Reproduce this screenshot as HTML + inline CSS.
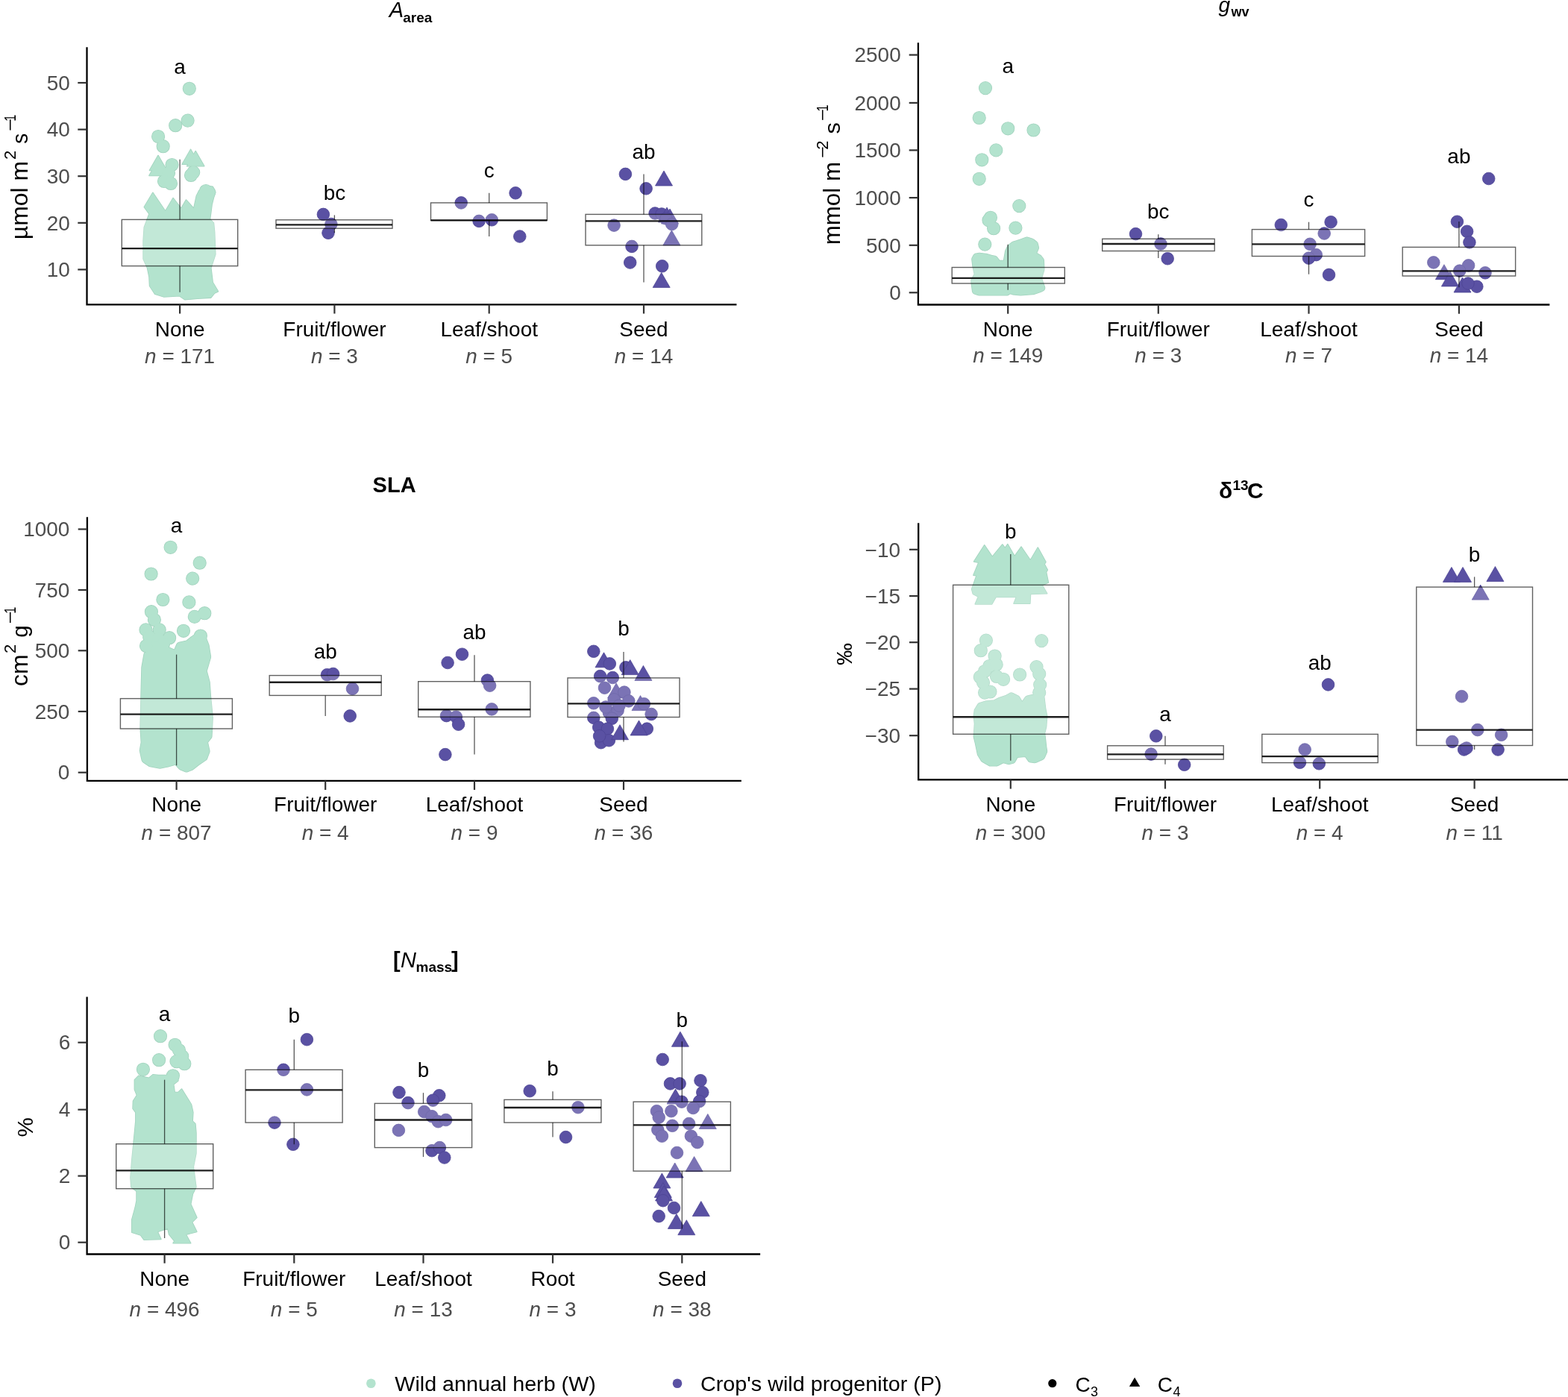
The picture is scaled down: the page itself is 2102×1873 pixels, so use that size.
<!DOCTYPE html>
<html><head><meta charset="utf-8"><title>Figure</title>
<style>html,body{margin:0;padding:0;background:#fff;overflow:hidden;} svg{display:block;}</style>
</head><body>
<svg width="2102" height="1873" viewBox="0 0 2102 1873" font-family="'Liberation Sans', Arial, Helvetica, sans-serif">
<rect width="2102" height="1873" fill="#fff"/>
<g fill="#a2d3be" stroke="#a2d3be" stroke-width="1.6" stroke-linejoin="round">
<path d="M204.8,258.3L193.3,277.6L200.0,286.7L193.3,304.8L192.1,323.0L192.1,347.2L197.5,359.2L200.0,371.3L200.6,383.4L207.8,394.3L219.9,397.9L240.4,396.7L247.7,401.6L264.6,400.3L282.8,399.1L287.6,393.1L292.4,390.7L285.2,378.6L282.8,359.2L288.8,341.1L287.6,310.9L286.4,298.8L281.5,294.0L282.8,284.3L284.0,274.6L286.4,265.0L288.8,257.7L285.2,250.4L275.5,249.2L267.0,255.3L263.4,262.5L259.8,279.5L249.5,268.0L242.9,279.5L232.0,265.6L221.7,283.1Z" />
<circle cx="253.8" cy="118.8" r="8.3" />
<circle cx="251.6" cy="161.6" r="8.3" />
<circle cx="235.2" cy="168.2" r="8.3" />
<circle cx="212.1" cy="183.0" r="8.3" />
<circle cx="218.7" cy="196.2" r="8.3" />
<path d="M200.5,228.5L223.5,228.5L212.0,208.5Z" />
<path d="M200.0,235.5L223.0,235.5L211.5,215.5Z" />
<circle cx="230.5" cy="221.0" r="8.3" />
<circle cx="226.0" cy="232.0" r="8.3" />
<circle cx="220.0" cy="243.0" r="8.3" />
<circle cx="229.0" cy="246.0" r="8.3" />
<path d="M244.1,220.3L267.1,220.3L255.6,200.3Z" />
<path d="M250.7,222.7L273.7,222.7L262.2,202.7Z" />
<circle cx="259.2" cy="231.1" r="8.3" />
<circle cx="256.0" cy="235.0" r="8.3" />
<circle cx="280.0" cy="258.0" r="8.3" />
<circle cx="276.0" cy="256.0" r="8.3" />
</g>
<g fill="#b3e3ce">
<path d="M204.8,258.3L193.3,277.6L200.0,286.7L193.3,304.8L192.1,323.0L192.1,347.2L197.5,359.2L200.0,371.3L200.6,383.4L207.8,394.3L219.9,397.9L240.4,396.7L247.7,401.6L264.6,400.3L282.8,399.1L287.6,393.1L292.4,390.7L285.2,378.6L282.8,359.2L288.8,341.1L287.6,310.9L286.4,298.8L281.5,294.0L282.8,284.3L284.0,274.6L286.4,265.0L288.8,257.7L285.2,250.4L275.5,249.2L267.0,255.3L263.4,262.5L259.8,279.5L249.5,268.0L242.9,279.5L232.0,265.6L221.7,283.1Z" />
<circle cx="253.8" cy="118.8" r="8.3" />
<circle cx="251.6" cy="161.6" r="8.3" />
<circle cx="235.2" cy="168.2" r="8.3" />
<circle cx="212.1" cy="183.0" r="8.3" />
<circle cx="218.7" cy="196.2" r="8.3" />
<path d="M200.5,228.5L223.5,228.5L212.0,208.5Z" />
<path d="M200.0,235.5L223.0,235.5L211.5,215.5Z" />
<circle cx="230.5" cy="221.0" r="8.3" />
<circle cx="226.0" cy="232.0" r="8.3" />
<circle cx="220.0" cy="243.0" r="8.3" />
<circle cx="229.0" cy="246.0" r="8.3" />
<path d="M244.1,220.3L267.1,220.3L255.6,200.3Z" />
<path d="M250.7,222.7L273.7,222.7L262.2,202.7Z" />
<circle cx="259.2" cy="231.1" r="8.3" />
<circle cx="256.0" cy="235.0" r="8.3" />
<circle cx="280.0" cy="258.0" r="8.3" />
<circle cx="276.0" cy="256.0" r="8.3" />
</g>
<circle cx="433.4" cy="287.4" r="8.3" fill="#5a51a3" stroke="#4d4494" stroke-width="0.8"/>
<circle cx="443.9" cy="300.5" r="8.3" fill="#5a51a3" stroke="#4d4494" stroke-width="0.8"/>
<circle cx="440.0" cy="312.3" r="8.3" fill="#5a51a3" stroke="#4d4494" stroke-width="0.8"/>
<circle cx="618.2" cy="271.9" r="8.3" fill="#5a51a3" stroke="#4d4494" stroke-width="0.8"/>
<circle cx="691.1" cy="258.8" r="8.3" fill="#5a51a3" stroke="#4d4494" stroke-width="0.8"/>
<circle cx="642.1" cy="296.4" r="8.3" fill="#5a51a3" stroke="#4d4494" stroke-width="0.8"/>
<circle cx="659.3" cy="294.8" r="8.3" fill="#5a51a3" stroke="#4d4494" stroke-width="0.8"/>
<circle cx="696.8" cy="317.0" r="8.3" fill="#5a51a3" stroke="#4d4494" stroke-width="0.8"/>
<circle cx="838.4" cy="233.4" r="8.3" fill="#5a51a3" stroke="#4d4494" stroke-width="0.8"/>
<circle cx="866.1" cy="252.8" r="8.3" fill="#5a51a3" stroke="#4d4494" stroke-width="0.8"/>
<path d="M878.5,249.0L901.5,249.0L890.0,229.0Z" fill="#5a51a3" stroke="#4d4494" stroke-width="0.8" stroke-linejoin="miter"/>
<circle cx="878.1" cy="286.0" r="8.3" fill="#5a51a3" stroke="#4d4494" stroke-width="0.8"/>
<circle cx="887.0" cy="287.0" r="8.3" fill="#5a51a3" stroke="#4d4494" stroke-width="0.8"/>
<path d="M882.5,298.0L905.5,298.0L894.0,278.0Z" fill="#5a51a3" stroke="#4d4494" stroke-width="0.8" stroke-linejoin="miter"/>
<path d="M886.5,300.0L909.5,300.0L898.0,280.0Z" fill="#5a51a3" stroke="#4d4494" stroke-width="0.8" stroke-linejoin="miter"/>
<circle cx="893.0" cy="293.0" r="8.3" fill="#5a51a3" stroke="#4d4494" stroke-width="0.8"/>
<circle cx="900.7" cy="300.5" r="8.3" fill="#5a51a3" stroke="#4d4494" stroke-width="0.8"/>
<circle cx="823.1" cy="302.1" r="8.3" fill="#5a51a3" stroke="#4d4494" stroke-width="0.8"/>
<path d="M888.9,328.8L911.9,328.8L900.4,308.8Z" fill="#5a51a3" stroke="#4d4494" stroke-width="0.8" stroke-linejoin="miter"/>
<circle cx="847.0" cy="330.4" r="8.3" fill="#5a51a3" stroke="#4d4494" stroke-width="0.8"/>
<circle cx="844.7" cy="352.0" r="8.3" fill="#5a51a3" stroke="#4d4494" stroke-width="0.8"/>
<circle cx="887.7" cy="356.8" r="8.3" fill="#5a51a3" stroke="#4d4494" stroke-width="0.8"/>
<path d="M875.2,385.4L898.2,385.4L886.7,365.4Z" fill="#5a51a3" stroke="#4d4494" stroke-width="0.8" stroke-linejoin="miter"/>
<rect x="163.3" y="294.4" width="155.4" height="62.2" fill="#fff" fill-opacity="0.2" stroke="#000" stroke-opacity="0.62" stroke-width="1.4"/>
<path d="M241.1,294.4V213.7" stroke="#000" stroke-opacity="0.66" stroke-width="1.3"/>
<path d="M241.1,356.6V391.8" stroke="#000" stroke-opacity="0.66" stroke-width="1.3"/>
<path d="M163.3,333.1H318.7" stroke="#000" stroke-opacity="0.88" stroke-width="2.35"/>
<rect x="370.0" y="294.8" width="156.0" height="11.4" fill="#fff" fill-opacity="0.2" stroke="#000" stroke-opacity="0.62" stroke-width="1.4"/>
<path d="M448.4,294.8V288.4" stroke="#000" stroke-opacity="0.66" stroke-width="1.3"/>
<path d="M448.4,306.2V312.0" stroke="#000" stroke-opacity="0.66" stroke-width="1.3"/>
<path d="M370.0,301.4H526.0" stroke="#000" stroke-opacity="0.88" stroke-width="2.35"/>
<rect x="577.5" y="271.9" width="155.9" height="23.5" fill="#fff" fill-opacity="0.2" stroke="#000" stroke-opacity="0.62" stroke-width="1.4"/>
<path d="M655.7,271.9V258.8" stroke="#000" stroke-opacity="0.66" stroke-width="1.3"/>
<path d="M655.7,295.4V317.0" stroke="#000" stroke-opacity="0.66" stroke-width="1.3"/>
<path d="M577.5,295.4H733.4" stroke="#000" stroke-opacity="0.88" stroke-width="2.35"/>
<rect x="785.0" y="287.4" width="155.8" height="41.4" fill="#fff" fill-opacity="0.2" stroke="#000" stroke-opacity="0.62" stroke-width="1.4"/>
<path d="M863.0,287.4V233.4" stroke="#000" stroke-opacity="0.66" stroke-width="1.3"/>
<path d="M863.0,328.8V378.4" stroke="#000" stroke-opacity="0.66" stroke-width="1.3"/>
<path d="M785.0,296.4H940.8" stroke="#000" stroke-opacity="0.88" stroke-width="2.35"/>
<text transform="translate(241.1,98.8) scale(1.035,1)" font-size="27" text-anchor="middle" fill="#000" font-weight="normal" font-style="normal" >a</text>
<text transform="translate(448.4,267.7) scale(1.035,1)" font-size="27" text-anchor="middle" fill="#000" font-weight="normal" font-style="normal" >bc</text>
<text transform="translate(655.7,237.5) scale(1.035,1)" font-size="27" text-anchor="middle" fill="#000" font-weight="normal" font-style="normal" >c</text>
<text transform="translate(863.0,213.4) scale(1.035,1)" font-size="27" text-anchor="middle" fill="#000" font-weight="normal" font-style="normal" >ab</text>
<path d="M116.5,64.3V408.3H986.3" fill="none" stroke="#000" stroke-width="2.3" stroke-linecap="square"/>
<path d="M104.3,361.4H116.5" stroke="#333" stroke-width="2.2"/>
<text transform="translate(93.8,371.1) scale(1.035,1)" font-size="27" text-anchor="end" fill="#4d4d4d" font-weight="normal" font-style="normal" >10</text>
<path d="M104.3,298.8H116.5" stroke="#333" stroke-width="2.2"/>
<text transform="translate(93.8,308.5) scale(1.035,1)" font-size="27" text-anchor="end" fill="#4d4d4d" font-weight="normal" font-style="normal" >20</text>
<path d="M104.3,236.2H116.5" stroke="#333" stroke-width="2.2"/>
<text transform="translate(93.8,245.9) scale(1.035,1)" font-size="27" text-anchor="end" fill="#4d4d4d" font-weight="normal" font-style="normal" >30</text>
<path d="M104.3,173.6H116.5" stroke="#333" stroke-width="2.2"/>
<text transform="translate(93.8,183.3) scale(1.035,1)" font-size="27" text-anchor="end" fill="#4d4d4d" font-weight="normal" font-style="normal" >40</text>
<path d="M104.3,111.0H116.5" stroke="#333" stroke-width="2.2"/>
<text transform="translate(93.8,120.7) scale(1.035,1)" font-size="27" text-anchor="end" fill="#4d4d4d" font-weight="normal" font-style="normal" >50</text>
<path d="M241.1,408.3V420.5" stroke="#333" stroke-width="2.2"/>
<text transform="translate(241.1,451.1) scale(1.035,1)" font-size="27" text-anchor="middle" fill="#000" font-weight="normal" font-style="normal" >None</text>
<text transform="translate(241.1,487.0) scale(1.035,1)" font-size="27" text-anchor="middle" fill="#4d4d4d" font-weight="normal" font-style="normal" ><tspan font-style="italic">n</tspan> = 171</text>
<path d="M448.4,408.3V420.5" stroke="#333" stroke-width="2.2"/>
<text transform="translate(448.4,451.1) scale(1.035,1)" font-size="27" text-anchor="middle" fill="#000" font-weight="normal" font-style="normal" >Fruit/flower</text>
<text transform="translate(448.4,487.0) scale(1.035,1)" font-size="27" text-anchor="middle" fill="#4d4d4d" font-weight="normal" font-style="normal" ><tspan font-style="italic">n</tspan> = 3</text>
<path d="M655.7,408.3V420.5" stroke="#333" stroke-width="2.2"/>
<text transform="translate(655.7,451.1) scale(1.035,1)" font-size="27" text-anchor="middle" fill="#000" font-weight="normal" font-style="normal" >Leaf/shoot</text>
<text transform="translate(655.7,487.0) scale(1.035,1)" font-size="27" text-anchor="middle" fill="#4d4d4d" font-weight="normal" font-style="normal" ><tspan font-style="italic">n</tspan> = 5</text>
<path d="M863.0,408.3V420.5" stroke="#333" stroke-width="2.2"/>
<text transform="translate(863.0,451.1) scale(1.035,1)" font-size="27" text-anchor="middle" fill="#000" font-weight="normal" font-style="normal" >Seed</text>
<text transform="translate(863.0,487.0) scale(1.035,1)" font-size="27" text-anchor="middle" fill="#4d4d4d" font-weight="normal" font-style="normal" ><tspan font-style="italic">n</tspan> = 14</text>
<g fill="#a2d3be" stroke="#a2d3be" stroke-width="1.6" stroke-linejoin="round">
<path d="M1303.5,345.6L1303.1,346.7L1303.0,348.0L1304.0,356.1L1304.0,356.5L1306.3,367.4L1306.3,367.5L1306.3,367.6L1302.4,374.9L1302.0,376.0L1302.0,377.3L1302.9,384.4L1303.7,390.5L1304.0,391.5L1304.5,392.5L1305.3,393.2L1306.3,393.7L1311.3,395.5L1312.6,395.7L1349.9,395.7L1350.8,395.6L1351.6,395.3L1352.4,394.8L1354.0,393.5L1354.1,393.4L1354.2,393.4L1356.4,394.3L1357.4,394.6L1367.8,395.7L1368.6,395.7L1384.5,394.5L1385.5,394.4L1394.9,391.3L1395.5,391.1L1398.4,389.6L1399.2,389.0L1399.9,388.3L1400.3,387.4L1400.5,386.4L1400.5,385.4L1400.2,384.5L1400.2,384.3L1396.3,373.3L1396.3,373.2L1396.3,373.1L1399.5,362.5L1399.7,361.2L1399.2,349.1L1398.9,347.9L1398.3,346.8L1395.7,343.4L1394.6,342.4L1389.6,339.4L1389.5,339.4L1389.5,339.3L1391.9,333.8L1392.2,332.6L1392.1,331.3L1391.0,326.7L1390.7,325.8L1390.2,325.1L1389.6,324.4L1385.5,321.2L1384.3,320.6L1378.0,318.5L1377.1,318.3L1376.1,318.3L1375.3,318.5L1369.3,320.8L1369.3,320.8L1362.5,323.1L1362.5,323.1L1357.6,324.6L1356.3,325.3L1352.0,328.8L1351.4,329.4L1350.9,330.1L1348.2,335.5L1347.8,336.6L1345.6,349.4L1345.6,349.5L1345.5,349.5L1340.1,349.5L1340.0,349.5L1339.9,349.4L1336.4,345.0L1335.8,344.4L1335.0,343.9L1334.1,343.6L1330.0,342.8L1329.8,342.8L1322.3,340.6L1321.7,340.5L1313.6,339.5L1312.4,339.5L1308.2,340.2L1307.1,340.6L1306.1,341.3L1305.4,342.2Z" />
<circle cx="1320.3" cy="327.6" r="8.3" />
<circle cx="1332.1" cy="306.2" r="8.3" />
<circle cx="1361.4" cy="305.6" r="8.3" />
<circle cx="1321.0" cy="118.1" r="8.3" />
<circle cx="1312.7" cy="158.0" r="8.3" />
<circle cx="1351.2" cy="172.3" r="8.3" />
<circle cx="1385.5" cy="174.5" r="8.3" />
<circle cx="1335.3" cy="201.4" r="8.3" />
<circle cx="1316.3" cy="214.3" r="8.3" />
<circle cx="1312.7" cy="239.8" r="8.3" />
<circle cx="1366.3" cy="276.1" r="8.3" />
<circle cx="1327.9" cy="291.8" r="8.3" />
<circle cx="1325.5" cy="295.3" r="8.3" />
</g>
<g fill="#b3e3ce">
<path d="M1303.5,345.6L1303.1,346.7L1303.0,348.0L1304.0,356.1L1304.0,356.5L1306.3,367.4L1306.3,367.5L1306.3,367.6L1302.4,374.9L1302.0,376.0L1302.0,377.3L1302.9,384.4L1303.7,390.5L1304.0,391.5L1304.5,392.5L1305.3,393.2L1306.3,393.7L1311.3,395.5L1312.6,395.7L1349.9,395.7L1350.8,395.6L1351.6,395.3L1352.4,394.8L1354.0,393.5L1354.1,393.4L1354.2,393.4L1356.4,394.3L1357.4,394.6L1367.8,395.7L1368.6,395.7L1384.5,394.5L1385.5,394.4L1394.9,391.3L1395.5,391.1L1398.4,389.6L1399.2,389.0L1399.9,388.3L1400.3,387.4L1400.5,386.4L1400.5,385.4L1400.2,384.5L1400.2,384.3L1396.3,373.3L1396.3,373.2L1396.3,373.1L1399.5,362.5L1399.7,361.2L1399.2,349.1L1398.9,347.9L1398.3,346.8L1395.7,343.4L1394.6,342.4L1389.6,339.4L1389.5,339.4L1389.5,339.3L1391.9,333.8L1392.2,332.6L1392.1,331.3L1391.0,326.7L1390.7,325.8L1390.2,325.1L1389.6,324.4L1385.5,321.2L1384.3,320.6L1378.0,318.5L1377.1,318.3L1376.1,318.3L1375.3,318.5L1369.3,320.8L1369.3,320.8L1362.5,323.1L1362.5,323.1L1357.6,324.6L1356.3,325.3L1352.0,328.8L1351.4,329.4L1350.9,330.1L1348.2,335.5L1347.8,336.6L1345.6,349.4L1345.6,349.5L1345.5,349.5L1340.1,349.5L1340.0,349.5L1339.9,349.4L1336.4,345.0L1335.8,344.4L1335.0,343.9L1334.1,343.6L1330.0,342.8L1329.8,342.8L1322.3,340.6L1321.7,340.5L1313.6,339.5L1312.4,339.5L1308.2,340.2L1307.1,340.6L1306.1,341.3L1305.4,342.2Z" />
<circle cx="1320.3" cy="327.6" r="8.3" />
<circle cx="1332.1" cy="306.2" r="8.3" />
<circle cx="1361.4" cy="305.6" r="8.3" />
<circle cx="1321.0" cy="118.1" r="8.3" />
<circle cx="1312.7" cy="158.0" r="8.3" />
<circle cx="1351.2" cy="172.3" r="8.3" />
<circle cx="1385.5" cy="174.5" r="8.3" />
<circle cx="1335.3" cy="201.4" r="8.3" />
<circle cx="1316.3" cy="214.3" r="8.3" />
<circle cx="1312.7" cy="239.8" r="8.3" />
<circle cx="1366.3" cy="276.1" r="8.3" />
<circle cx="1327.9" cy="291.8" r="8.3" />
<circle cx="1325.5" cy="295.3" r="8.3" />
</g>
<circle cx="1522.5" cy="313.6" r="8.3" fill="#5a51a3" stroke="#4d4494" stroke-width="0.8"/>
<circle cx="1556.0" cy="327.0" r="8.3" fill="#5a51a3" stroke="#4d4494" stroke-width="0.8"/>
<circle cx="1565.2" cy="346.7" r="8.3" fill="#5a51a3" stroke="#4d4494" stroke-width="0.8"/>
<circle cx="1717.3" cy="301.5" r="8.3" fill="#5a51a3" stroke="#4d4494" stroke-width="0.8"/>
<circle cx="1784.1" cy="297.7" r="8.3" fill="#5a51a3" stroke="#4d4494" stroke-width="0.8"/>
<circle cx="1775.2" cy="313.0" r="8.3" fill="#5a51a3" stroke="#4d4494" stroke-width="0.8"/>
<circle cx="1756.1" cy="327.3" r="8.3" fill="#5a51a3" stroke="#4d4494" stroke-width="0.8"/>
<circle cx="1764.3" cy="341.6" r="8.3" fill="#5a51a3" stroke="#4d4494" stroke-width="0.8"/>
<circle cx="1754.5" cy="346.1" r="8.3" fill="#5a51a3" stroke="#4d4494" stroke-width="0.8"/>
<circle cx="1781.5" cy="368.4" r="8.3" fill="#5a51a3" stroke="#4d4494" stroke-width="0.8"/>
<circle cx="1995.7" cy="239.5" r="8.3" fill="#5a51a3" stroke="#4d4494" stroke-width="0.8"/>
<circle cx="1953.4" cy="297.2" r="8.3" fill="#5a51a3" stroke="#4d4494" stroke-width="0.8"/>
<circle cx="1966.6" cy="310.3" r="8.3" fill="#5a51a3" stroke="#4d4494" stroke-width="0.8"/>
<circle cx="1969.9" cy="324.9" r="8.3" fill="#5a51a3" stroke="#4d4494" stroke-width="0.8"/>
<circle cx="1921.8" cy="351.9" r="8.3" fill="#5a51a3" stroke="#4d4494" stroke-width="0.8"/>
<path d="M1924.4,374.7L1947.4,374.7L1935.9,354.7Z" fill="#5a51a3" stroke="#4d4494" stroke-width="0.8" stroke-linejoin="miter"/>
<path d="M1932.4,383.9L1955.4,383.9L1943.9,363.9Z" fill="#5a51a3" stroke="#4d4494" stroke-width="0.8" stroke-linejoin="miter"/>
<circle cx="1968.6" cy="355.9" r="8.3" fill="#5a51a3" stroke="#4d4494" stroke-width="0.8"/>
<circle cx="1956.7" cy="363.1" r="8.3" fill="#5a51a3" stroke="#4d4494" stroke-width="0.8"/>
<circle cx="1991.0" cy="365.8" r="8.3" fill="#5a51a3" stroke="#4d4494" stroke-width="0.8"/>
<path d="M1949.0,392.0L1972.0,392.0L1960.5,372.0Z" fill="#5a51a3" stroke="#4d4494" stroke-width="0.8" stroke-linejoin="miter"/>
<circle cx="1979.8" cy="384.2" r="8.3" fill="#5a51a3" stroke="#4d4494" stroke-width="0.8"/>
<circle cx="1968.0" cy="380.0" r="8.3" fill="#5a51a3" stroke="#4d4494" stroke-width="0.8"/>
<rect x="1276.2" y="358.5" width="151.1" height="21.5" fill="#fff" fill-opacity="0.2" stroke="#000" stroke-opacity="0.62" stroke-width="1.4"/>
<path d="M1351.2,358.5V327.7" stroke="#000" stroke-opacity="0.66" stroke-width="1.3"/>
<path d="M1351.2,380.0V388.7" stroke="#000" stroke-opacity="0.66" stroke-width="1.3"/>
<path d="M1276.2,372.8H1427.3" stroke="#000" stroke-opacity="0.88" stroke-width="2.35"/>
<rect x="1477.7" y="320.3" width="150.5" height="16.2" fill="#fff" fill-opacity="0.2" stroke="#000" stroke-opacity="0.62" stroke-width="1.4"/>
<path d="M1552.8,320.3V314.3" stroke="#000" stroke-opacity="0.66" stroke-width="1.3"/>
<path d="M1552.8,336.5V346.1" stroke="#000" stroke-opacity="0.66" stroke-width="1.3"/>
<path d="M1477.7,327.0H1628.2" stroke="#000" stroke-opacity="0.88" stroke-width="2.35"/>
<rect x="1678.4" y="307.6" width="151.2" height="35.9" fill="#fff" fill-opacity="0.2" stroke="#000" stroke-opacity="0.62" stroke-width="1.4"/>
<path d="M1754.5,307.6V297.7" stroke="#000" stroke-opacity="0.66" stroke-width="1.3"/>
<path d="M1754.5,343.5V367.7" stroke="#000" stroke-opacity="0.66" stroke-width="1.3"/>
<path d="M1678.4,327.3H1829.6" stroke="#000" stroke-opacity="0.88" stroke-width="2.35"/>
<rect x="1880.2" y="331.4" width="151.4" height="38.6" fill="#fff" fill-opacity="0.2" stroke="#000" stroke-opacity="0.62" stroke-width="1.4"/>
<path d="M1955.9,331.4V297.1" stroke="#000" stroke-opacity="0.66" stroke-width="1.3"/>
<path d="M1955.9,370.0V385.2" stroke="#000" stroke-opacity="0.66" stroke-width="1.3"/>
<path d="M1880.2,363.4H2031.6" stroke="#000" stroke-opacity="0.88" stroke-width="2.35"/>
<text transform="translate(1351.2,97.5) scale(1.035,1)" font-size="27" text-anchor="middle" fill="#000" font-weight="normal" font-style="normal" >a</text>
<text transform="translate(1552.8,293.0) scale(1.035,1)" font-size="27" text-anchor="middle" fill="#000" font-weight="normal" font-style="normal" >bc</text>
<text transform="translate(1754.5,277.0) scale(1.035,1)" font-size="27" text-anchor="middle" fill="#000" font-weight="normal" font-style="normal" >c</text>
<text transform="translate(1955.9,218.8) scale(1.035,1)" font-size="27" text-anchor="middle" fill="#000" font-weight="normal" font-style="normal" >ab</text>
<path d="M1230.9,58.5V408.5H2076.2" fill="none" stroke="#000" stroke-width="2.3" stroke-linecap="square"/>
<path d="M1218.7,392.3H1230.9" stroke="#333" stroke-width="2.2"/>
<text transform="translate(1207.7,402.0) scale(1.035,1)" font-size="27" text-anchor="end" fill="#4d4d4d" font-weight="normal" font-style="normal" >0</text>
<path d="M1218.7,328.8H1230.9" stroke="#333" stroke-width="2.2"/>
<text transform="translate(1207.7,338.5) scale(1.035,1)" font-size="27" text-anchor="end" fill="#4d4d4d" font-weight="normal" font-style="normal" >500</text>
<path d="M1218.7,265.1H1230.9" stroke="#333" stroke-width="2.2"/>
<text transform="translate(1207.7,274.8) scale(1.035,1)" font-size="27" text-anchor="end" fill="#4d4d4d" font-weight="normal" font-style="normal" >1000</text>
<path d="M1218.7,201.4H1230.9" stroke="#333" stroke-width="2.2"/>
<text transform="translate(1207.7,211.1) scale(1.035,1)" font-size="27" text-anchor="end" fill="#4d4d4d" font-weight="normal" font-style="normal" >1500</text>
<path d="M1218.7,137.9H1230.9" stroke="#333" stroke-width="2.2"/>
<text transform="translate(1207.7,147.6) scale(1.035,1)" font-size="27" text-anchor="end" fill="#4d4d4d" font-weight="normal" font-style="normal" >2000</text>
<path d="M1218.7,73.6H1230.9" stroke="#333" stroke-width="2.2"/>
<text transform="translate(1207.7,83.3) scale(1.035,1)" font-size="27" text-anchor="end" fill="#4d4d4d" font-weight="normal" font-style="normal" >2500</text>
<path d="M1351.2,408.5V420.7" stroke="#333" stroke-width="2.2"/>
<text transform="translate(1351.2,451.1) scale(1.035,1)" font-size="27" text-anchor="middle" fill="#000" font-weight="normal" font-style="normal" >None</text>
<text transform="translate(1351.2,486.1) scale(1.035,1)" font-size="27" text-anchor="middle" fill="#4d4d4d" font-weight="normal" font-style="normal" ><tspan font-style="italic">n</tspan> = 149</text>
<path d="M1552.8,408.5V420.7" stroke="#333" stroke-width="2.2"/>
<text transform="translate(1552.8,451.1) scale(1.035,1)" font-size="27" text-anchor="middle" fill="#000" font-weight="normal" font-style="normal" >Fruit/flower</text>
<text transform="translate(1552.8,486.1) scale(1.035,1)" font-size="27" text-anchor="middle" fill="#4d4d4d" font-weight="normal" font-style="normal" ><tspan font-style="italic">n</tspan> = 3</text>
<path d="M1754.5,408.5V420.7" stroke="#333" stroke-width="2.2"/>
<text transform="translate(1754.5,451.1) scale(1.035,1)" font-size="27" text-anchor="middle" fill="#000" font-weight="normal" font-style="normal" >Leaf/shoot</text>
<text transform="translate(1754.5,486.1) scale(1.035,1)" font-size="27" text-anchor="middle" fill="#4d4d4d" font-weight="normal" font-style="normal" ><tspan font-style="italic">n</tspan> = 7</text>
<path d="M1955.9,408.5V420.7" stroke="#333" stroke-width="2.2"/>
<text transform="translate(1955.9,451.1) scale(1.035,1)" font-size="27" text-anchor="middle" fill="#000" font-weight="normal" font-style="normal" >Seed</text>
<text transform="translate(1955.9,486.1) scale(1.035,1)" font-size="27" text-anchor="middle" fill="#4d4d4d" font-weight="normal" font-style="normal" ><tspan font-style="italic">n</tspan> = 14</text>
<g fill="#a2d3be" stroke="#a2d3be" stroke-width="1.6" stroke-linejoin="round">
<path d="M195.1,874.5L194.2,875.2L193.5,876.1L193.2,877.2L190.2,894.0L190.1,894.6L189.4,921.2L189.4,921.2L188.8,948.1L188.1,974.9L188.1,975.3L189.4,995.2L189.4,995.3L189.4,995.4L187.6,1005.3L187.5,1006.1L187.6,1006.9L190.4,1019.4L190.8,1020.3L191.4,1021.1L192.1,1021.8L199.5,1026.8L200.2,1027.2L201.0,1027.5L212.9,1029.8L214.5,1029.9L224.2,1028.0L224.6,1028.0L235.1,1025.0L235.2,1025.0L235.3,1025.1L239.9,1030.3L240.6,1030.9L241.3,1031.4L248.5,1034.4L249.5,1034.7L250.5,1034.7L251.5,1034.4L257.4,1032.2L258.5,1031.6L267.4,1024.6L267.6,1024.6L275.9,1018.9L276.8,1018.1L277.4,1017.0L280.6,1008.5L280.8,1007.4L280.7,1006.2L278.3,995.4L278.3,995.3L278.4,995.2L282.9,989.6L283.5,988.5L283.8,987.3L285.1,961.9L285.1,961.3L282.4,934.7L282.4,934.7L281.0,914.9L280.9,914.1L277.0,899.8L277.0,899.7L277.0,899.6L282.2,881.7L282.3,880.8L282.3,879.9L279.8,865.0L279.6,864.2L276.0,855.0L275.5,854.0L274.6,853.2L268.5,848.8L267.7,848.3L266.7,848.1L265.7,848.1L264.7,848.3L263.9,848.8L256.9,853.8L256.7,854.0L250.1,859.2L250.0,859.3L249.9,859.3L239.9,861.6L239.0,861.9L238.2,862.4L237.6,863.1L237.1,863.9L233.9,871.3L233.9,871.4L233.8,871.4L225.6,867.8L224.8,867.6L223.9,867.5L223.1,867.6L213.8,870.0L213.6,870.0L201.1,871.3L200.2,871.5L199.4,871.9Z" />
<circle cx="218.4" cy="804.0" r="8.3" />
<circle cx="253.4" cy="807.4" r="8.3" />
<circle cx="260.8" cy="826.9" r="8.3" />
<circle cx="274.3" cy="822.2" r="8.3" />
<circle cx="202.9" cy="820.2" r="8.3" />
<circle cx="206.9" cy="831.0" r="8.3" />
<circle cx="195.5" cy="844.4" r="8.3" />
<circle cx="213.7" cy="844.4" r="8.3" />
<circle cx="227.1" cy="855.2" r="8.3" />
<circle cx="201.5" cy="862.0" r="8.3" />
<circle cx="246.0" cy="845.8" r="8.3" />
<circle cx="268.9" cy="852.5" r="8.3" />
<circle cx="228.6" cy="733.8" r="8.3" />
<circle cx="202.6" cy="769.5" r="8.3" />
<circle cx="267.7" cy="754.7" r="8.3" />
<circle cx="258.2" cy="775.6" r="8.3" />
<circle cx="200.2" cy="853.9" r="8.3" />
<circle cx="212.3" cy="856.6" r="8.3" />
<circle cx="219.0" cy="863.3" r="8.3" />
<circle cx="207.0" cy="867.3" r="8.3" />
<circle cx="196.0" cy="866.0" r="8.3" />
</g>
<g fill="#b3e3ce">
<path d="M195.1,874.5L194.2,875.2L193.5,876.1L193.2,877.2L190.2,894.0L190.1,894.6L189.4,921.2L189.4,921.2L188.8,948.1L188.1,974.9L188.1,975.3L189.4,995.2L189.4,995.3L189.4,995.4L187.6,1005.3L187.5,1006.1L187.6,1006.9L190.4,1019.4L190.8,1020.3L191.4,1021.1L192.1,1021.8L199.5,1026.8L200.2,1027.2L201.0,1027.5L212.9,1029.8L214.5,1029.9L224.2,1028.0L224.6,1028.0L235.1,1025.0L235.2,1025.0L235.3,1025.1L239.9,1030.3L240.6,1030.9L241.3,1031.4L248.5,1034.4L249.5,1034.7L250.5,1034.7L251.5,1034.4L257.4,1032.2L258.5,1031.6L267.4,1024.6L267.6,1024.6L275.9,1018.9L276.8,1018.1L277.4,1017.0L280.6,1008.5L280.8,1007.4L280.7,1006.2L278.3,995.4L278.3,995.3L278.4,995.2L282.9,989.6L283.5,988.5L283.8,987.3L285.1,961.9L285.1,961.3L282.4,934.7L282.4,934.7L281.0,914.9L280.9,914.1L277.0,899.8L277.0,899.7L277.0,899.6L282.2,881.7L282.3,880.8L282.3,879.9L279.8,865.0L279.6,864.2L276.0,855.0L275.5,854.0L274.6,853.2L268.5,848.8L267.7,848.3L266.7,848.1L265.7,848.1L264.7,848.3L263.9,848.8L256.9,853.8L256.7,854.0L250.1,859.2L250.0,859.3L249.9,859.3L239.9,861.6L239.0,861.9L238.2,862.4L237.6,863.1L237.1,863.9L233.9,871.3L233.9,871.4L233.8,871.4L225.6,867.8L224.8,867.6L223.9,867.5L223.1,867.6L213.8,870.0L213.6,870.0L201.1,871.3L200.2,871.5L199.4,871.9Z" />
<circle cx="218.4" cy="804.0" r="8.3" />
<circle cx="253.4" cy="807.4" r="8.3" />
<circle cx="260.8" cy="826.9" r="8.3" />
<circle cx="274.3" cy="822.2" r="8.3" />
<circle cx="202.9" cy="820.2" r="8.3" />
<circle cx="206.9" cy="831.0" r="8.3" />
<circle cx="195.5" cy="844.4" r="8.3" />
<circle cx="213.7" cy="844.4" r="8.3" />
<circle cx="227.1" cy="855.2" r="8.3" />
<circle cx="201.5" cy="862.0" r="8.3" />
<circle cx="246.0" cy="845.8" r="8.3" />
<circle cx="268.9" cy="852.5" r="8.3" />
<circle cx="228.6" cy="733.8" r="8.3" />
<circle cx="202.6" cy="769.5" r="8.3" />
<circle cx="267.7" cy="754.7" r="8.3" />
<circle cx="258.2" cy="775.6" r="8.3" />
<circle cx="200.2" cy="853.9" r="8.3" />
<circle cx="212.3" cy="856.6" r="8.3" />
<circle cx="219.0" cy="863.3" r="8.3" />
<circle cx="207.0" cy="867.3" r="8.3" />
<circle cx="196.0" cy="866.0" r="8.3" />
</g>
<circle cx="438.5" cy="904.7" r="8.3" fill="#5a51a3" stroke="#4d4494" stroke-width="0.8"/>
<circle cx="446.6" cy="903.5" r="8.3" fill="#5a51a3" stroke="#4d4494" stroke-width="0.8"/>
<circle cx="472.5" cy="923.4" r="8.3" fill="#5a51a3" stroke="#4d4494" stroke-width="0.8"/>
<circle cx="469.2" cy="959.9" r="8.3" fill="#5a51a3" stroke="#4d4494" stroke-width="0.8"/>
<circle cx="619.5" cy="877.2" r="8.3" fill="#5a51a3" stroke="#4d4494" stroke-width="0.8"/>
<circle cx="600.1" cy="888.5" r="8.3" fill="#5a51a3" stroke="#4d4494" stroke-width="0.8"/>
<circle cx="653.4" cy="912.1" r="8.3" fill="#5a51a3" stroke="#4d4494" stroke-width="0.8"/>
<circle cx="656.6" cy="919.2" r="8.3" fill="#5a51a3" stroke="#4d4494" stroke-width="0.8"/>
<circle cx="659.2" cy="950.9" r="8.3" fill="#5a51a3" stroke="#4d4494" stroke-width="0.8"/>
<circle cx="598.5" cy="959.6" r="8.3" fill="#5a51a3" stroke="#4d4494" stroke-width="0.8"/>
<circle cx="611.4" cy="961.2" r="8.3" fill="#5a51a3" stroke="#4d4494" stroke-width="0.8"/>
<circle cx="614.6" cy="971.2" r="8.3" fill="#5a51a3" stroke="#4d4494" stroke-width="0.8"/>
<circle cx="596.9" cy="1011.6" r="8.3" fill="#5a51a3" stroke="#4d4494" stroke-width="0.8"/>
<circle cx="795.8" cy="873.3" r="8.3" fill="#5a51a3" stroke="#4d4494" stroke-width="0.8"/>
<path d="M798.0,894.8L821.0,894.8L809.5,874.8Z" fill="#5a51a3" stroke="#4d4494" stroke-width="0.8" stroke-linejoin="miter"/>
<circle cx="817.3" cy="889.9" r="8.3" fill="#5a51a3" stroke="#4d4494" stroke-width="0.8"/>
<circle cx="838.9" cy="894.8" r="8.3" fill="#5a51a3" stroke="#4d4494" stroke-width="0.8"/>
<path d="M833.2,904.6L856.2,904.6L844.7,884.6Z" fill="#5a51a3" stroke="#4d4494" stroke-width="0.8" stroke-linejoin="miter"/>
<path d="M850.9,912.4L873.9,912.4L862.4,892.4Z" fill="#5a51a3" stroke="#4d4494" stroke-width="0.8" stroke-linejoin="miter"/>
<circle cx="804.6" cy="906.6" r="8.3" fill="#5a51a3" stroke="#4d4494" stroke-width="0.8"/>
<circle cx="821.3" cy="908.5" r="8.3" fill="#5a51a3" stroke="#4d4494" stroke-width="0.8"/>
<circle cx="810.5" cy="922.2" r="8.3" fill="#5a51a3" stroke="#4d4494" stroke-width="0.8"/>
<path d="M814.6,935.9L837.6,935.9L826.1,915.9Z" fill="#5a51a3" stroke="#4d4494" stroke-width="0.8" stroke-linejoin="miter"/>
<circle cx="836.9" cy="928.1" r="8.3" fill="#5a51a3" stroke="#4d4494" stroke-width="0.8"/>
<circle cx="842.8" cy="939.9" r="8.3" fill="#5a51a3" stroke="#4d4494" stroke-width="0.8"/>
<circle cx="795.8" cy="942.8" r="8.3" fill="#5a51a3" stroke="#4d4494" stroke-width="0.8"/>
<circle cx="823.2" cy="937.9" r="8.3" fill="#5a51a3" stroke="#4d4494" stroke-width="0.8"/>
<circle cx="816.4" cy="955.5" r="8.3" fill="#5a51a3" stroke="#4d4494" stroke-width="0.8"/>
<circle cx="828.1" cy="952.6" r="8.3" fill="#5a51a3" stroke="#4d4494" stroke-width="0.8"/>
<path d="M847.0,952.6L870.0,952.6L858.5,932.6Z" fill="#5a51a3" stroke="#4d4494" stroke-width="0.8" stroke-linejoin="miter"/>
<circle cx="863.3" cy="943.8" r="8.3" fill="#5a51a3" stroke="#4d4494" stroke-width="0.8"/>
<circle cx="873.1" cy="957.5" r="8.3" fill="#5a51a3" stroke="#4d4494" stroke-width="0.8"/>
<circle cx="795.8" cy="962.4" r="8.3" fill="#5a51a3" stroke="#4d4494" stroke-width="0.8"/>
<circle cx="820.3" cy="963.3" r="8.3" fill="#5a51a3" stroke="#4d4494" stroke-width="0.8"/>
<circle cx="802.7" cy="975.1" r="8.3" fill="#5a51a3" stroke="#4d4494" stroke-width="0.8"/>
<circle cx="814.4" cy="977.1" r="8.3" fill="#5a51a3" stroke="#4d4494" stroke-width="0.8"/>
<circle cx="867.3" cy="977.1" r="8.3" fill="#5a51a3" stroke="#4d4494" stroke-width="0.8"/>
<path d="M845.0,985.9L868.0,985.9L856.5,965.9Z" fill="#5a51a3" stroke="#4d4494" stroke-width="0.8" stroke-linejoin="miter"/>
<circle cx="805.6" cy="995.7" r="8.3" fill="#5a51a3" stroke="#4d4494" stroke-width="0.8"/>
<circle cx="816.4" cy="992.7" r="8.3" fill="#5a51a3" stroke="#4d4494" stroke-width="0.8"/>
<circle cx="803.6" cy="986.8" r="8.3" fill="#5a51a3" stroke="#4d4494" stroke-width="0.8"/>
<path d="M819.5,991.7L842.5,991.7L831.0,971.7Z" fill="#5a51a3" stroke="#4d4494" stroke-width="0.8" stroke-linejoin="miter"/>
<circle cx="830.0" cy="946.0" r="8.3" fill="#5a51a3" stroke="#4d4494" stroke-width="0.8"/>
<circle cx="812.0" cy="948.0" r="8.3" fill="#5a51a3" stroke="#4d4494" stroke-width="0.8"/>
<rect x="161.4" y="936.6" width="150.0" height="40.4" fill="#fff" fill-opacity="0.2" stroke="#000" stroke-opacity="0.62" stroke-width="1.4"/>
<path d="M236.6,936.6V877.6" stroke="#000" stroke-opacity="0.66" stroke-width="1.3"/>
<path d="M236.6,977.0V1026.3" stroke="#000" stroke-opacity="0.66" stroke-width="1.3"/>
<path d="M161.4,957.6H311.4" stroke="#000" stroke-opacity="0.88" stroke-width="2.35"/>
<rect x="361.2" y="905.6" width="150.0" height="26.8" fill="#fff" fill-opacity="0.2" stroke="#000" stroke-opacity="0.62" stroke-width="1.4"/>
<path d="M436.2,932.4V959.9" stroke="#000" stroke-opacity="0.66" stroke-width="1.3"/>
<path d="M361.2,914.7H511.2" stroke="#000" stroke-opacity="0.88" stroke-width="2.35"/>
<rect x="560.7" y="913.7" width="150.2" height="47.5" fill="#fff" fill-opacity="0.2" stroke="#000" stroke-opacity="0.62" stroke-width="1.4"/>
<path d="M636.0,913.7V878.2" stroke="#000" stroke-opacity="0.66" stroke-width="1.3"/>
<path d="M636.0,961.2V1011.6" stroke="#000" stroke-opacity="0.66" stroke-width="1.3"/>
<path d="M560.7,951.2H710.9" stroke="#000" stroke-opacity="0.88" stroke-width="2.35"/>
<rect x="761.0" y="908.9" width="150.0" height="52.6" fill="#fff" fill-opacity="0.2" stroke="#000" stroke-opacity="0.62" stroke-width="1.4"/>
<path d="M836.0,908.9V874.0" stroke="#000" stroke-opacity="0.66" stroke-width="1.3"/>
<path d="M836.0,961.5V994.5" stroke="#000" stroke-opacity="0.66" stroke-width="1.3"/>
<path d="M761.0,943.4H911.0" stroke="#000" stroke-opacity="0.88" stroke-width="2.35"/>
<text transform="translate(236.6,713.5) scale(1.035,1)" font-size="27" text-anchor="middle" fill="#000" font-weight="normal" font-style="normal" >a</text>
<text transform="translate(436.2,883.0) scale(1.035,1)" font-size="27" text-anchor="middle" fill="#000" font-weight="normal" font-style="normal" >ab</text>
<text transform="translate(636.0,857.2) scale(1.035,1)" font-size="27" text-anchor="middle" fill="#000" font-weight="normal" font-style="normal" >ab</text>
<text transform="translate(836.0,852.3) scale(1.035,1)" font-size="27" text-anchor="middle" fill="#000" font-weight="normal" font-style="normal" >b</text>
<path d="M116.9,694.3V1046.8H992.7" fill="none" stroke="#000" stroke-width="2.3" stroke-linecap="square"/>
<path d="M104.7,1035.7H116.9" stroke="#333" stroke-width="2.2"/>
<text transform="translate(93.4,1045.4) scale(1.035,1)" font-size="27" text-anchor="end" fill="#4d4d4d" font-weight="normal" font-style="normal" >0</text>
<path d="M104.7,953.9H116.9" stroke="#333" stroke-width="2.2"/>
<text transform="translate(93.4,963.6) scale(1.035,1)" font-size="27" text-anchor="end" fill="#4d4d4d" font-weight="normal" font-style="normal" >250</text>
<path d="M104.7,872.3H116.9" stroke="#333" stroke-width="2.2"/>
<text transform="translate(93.4,882.0) scale(1.035,1)" font-size="27" text-anchor="end" fill="#4d4d4d" font-weight="normal" font-style="normal" >500</text>
<path d="M104.7,791.0H116.9" stroke="#333" stroke-width="2.2"/>
<text transform="translate(93.4,800.7) scale(1.035,1)" font-size="27" text-anchor="end" fill="#4d4d4d" font-weight="normal" font-style="normal" >750</text>
<path d="M104.7,709.5H116.9" stroke="#333" stroke-width="2.2"/>
<text transform="translate(93.4,719.2) scale(1.035,1)" font-size="27" text-anchor="end" fill="#4d4d4d" font-weight="normal" font-style="normal" >1000</text>
<path d="M236.6,1046.8V1059.0" stroke="#333" stroke-width="2.2"/>
<text transform="translate(236.6,1087.7) scale(1.035,1)" font-size="27" text-anchor="middle" fill="#000" font-weight="normal" font-style="normal" >None</text>
<text transform="translate(236.6,1125.8) scale(1.035,1)" font-size="27" text-anchor="middle" fill="#4d4d4d" font-weight="normal" font-style="normal" ><tspan font-style="italic">n</tspan> = 807</text>
<path d="M436.2,1046.8V1059.0" stroke="#333" stroke-width="2.2"/>
<text transform="translate(436.2,1087.7) scale(1.035,1)" font-size="27" text-anchor="middle" fill="#000" font-weight="normal" font-style="normal" >Fruit/flower</text>
<text transform="translate(436.2,1125.8) scale(1.035,1)" font-size="27" text-anchor="middle" fill="#4d4d4d" font-weight="normal" font-style="normal" ><tspan font-style="italic">n</tspan> = 4</text>
<path d="M636.0,1046.8V1059.0" stroke="#333" stroke-width="2.2"/>
<text transform="translate(636.0,1087.7) scale(1.035,1)" font-size="27" text-anchor="middle" fill="#000" font-weight="normal" font-style="normal" >Leaf/shoot</text>
<text transform="translate(636.0,1125.8) scale(1.035,1)" font-size="27" text-anchor="middle" fill="#4d4d4d" font-weight="normal" font-style="normal" ><tspan font-style="italic">n</tspan> = 9</text>
<path d="M836.0,1046.8V1059.0" stroke="#333" stroke-width="2.2"/>
<text transform="translate(836.0,1087.7) scale(1.035,1)" font-size="27" text-anchor="middle" fill="#000" font-weight="normal" font-style="normal" >Seed</text>
<text transform="translate(836.0,1125.8) scale(1.035,1)" font-size="27" text-anchor="middle" fill="#4d4d4d" font-weight="normal" font-style="normal" ><tspan font-style="italic">n</tspan> = 36</text>
<g fill="#a2d3be" stroke="#a2d3be" stroke-width="1.6" stroke-linejoin="round">
<path d="M1305.6,752.9L1319.7,730.9L1330.2,746.4L1343.8,730.0L1347.3,734.7L1350.8,729.7L1360.2,745.8L1369.0,733.2L1381.3,751.1L1391.3,734.1L1401.9,753.5L1400.1,756.4L1404.3,764.1L1402.5,767.0L1405.4,781.1L1397.2,784.6L1403.7,795.8L1381.5,796.4L1380.8,809.3L1359.0,809.3L1362.5,800.5L1335.0,800.5L1329.7,809.9L1307.3,809.9L1311.5,800.0L1304.4,796.4L1302.6,789.9L1309.1,771.7L1305.0,771.1L1312.0,754.1Z" />
<path d="M1307.0,950.8L1306.6,951.5L1306.4,952.4L1305.5,959.4L1305.4,960.4L1306.5,970.2L1306.5,970.3L1306.5,970.4L1305.4,987.5L1305.6,988.7L1307.5,996.4L1307.5,996.4L1310.6,1011.4L1311.1,1012.7L1315.4,1019.7L1316.0,1020.4L1316.7,1021.0L1325.4,1026.1L1326.3,1026.6L1327.4,1026.7L1335.8,1026.7L1336.8,1026.6L1337.7,1026.3L1345.0,1022.5L1345.1,1022.5L1345.2,1022.5L1351.3,1024.3L1352.4,1024.4L1353.5,1024.3L1358.2,1023.0L1359.2,1022.5L1360.0,1021.9L1360.6,1021.1L1363.9,1015.3L1363.9,1015.2L1364.0,1015.2L1374.3,1014.2L1374.4,1014.2L1374.5,1014.3L1378.6,1020.1L1379.3,1020.9L1380.3,1021.4L1381.4,1021.7L1386.9,1022.4L1388.0,1022.3L1389.0,1022.0L1398.0,1017.9L1398.8,1017.4L1399.5,1016.7L1400.0,1015.9L1403.1,1009.0L1403.4,1007.9L1403.4,1006.7L1402.6,1001.7L1402.6,1001.7L1400.5,983.0L1400.5,982.9L1400.5,982.8L1402.5,974.8L1402.6,974.1L1403.6,960.4L1403.5,959.4L1401.5,949.5L1401.5,949.3L1399.8,935.2L1399.6,934.3L1399.1,933.4L1398.5,932.7L1397.7,932.2L1396.8,931.8L1395.8,931.7L1384.3,931.7L1383.3,931.8L1376.8,933.4L1376.0,933.8L1375.2,934.3L1374.5,935.0L1370.3,941.0L1370.2,941.1L1370.2,941.0L1366.6,934.8L1365.9,933.9L1364.9,933.3L1357.5,929.5L1356.6,929.2L1355.6,929.1L1354.7,929.3L1353.8,929.6L1348.4,932.7L1348.3,932.7L1348.2,932.7L1339.1,935.8L1338.7,936.0L1332.7,939.0L1332.6,939.0L1332.5,939.0L1322.6,940.0L1321.8,940.1L1313.1,942.8L1312.3,943.1L1311.5,943.7L1310.9,944.5Z" />
<circle cx="1321.9" cy="858.6" r="8.3" />
<circle cx="1314.8" cy="872.2" r="8.3" />
<circle cx="1333.6" cy="879.5" r="8.3" />
<circle cx="1396.3" cy="859.1" r="8.3" />
<circle cx="1326.3" cy="893.0" r="8.3" />
<circle cx="1335.7" cy="891.0" r="8.3" />
<circle cx="1313.8" cy="907.7" r="8.3" />
<circle cx="1345.1" cy="910.8" r="8.3" />
<circle cx="1367.1" cy="904.5" r="8.3" />
<circle cx="1327.4" cy="927.5" r="8.3" />
<circle cx="1320.1" cy="928.6" r="8.3" />
<circle cx="1389.5" cy="894.1" r="8.3" />
<circle cx="1393.2" cy="903.5" r="8.3" />
<circle cx="1394.2" cy="918.1" r="8.3" />
<circle cx="1393.2" cy="928.6" r="8.3" />
<circle cx="1320.0" cy="900.0" r="8.3" />
<circle cx="1318.0" cy="915.0" r="8.3" />
<circle cx="1336.0" cy="907.0" r="8.3" />
</g>
<g fill="#b3e3ce">
<path d="M1305.6,752.9L1319.7,730.9L1330.2,746.4L1343.8,730.0L1347.3,734.7L1350.8,729.7L1360.2,745.8L1369.0,733.2L1381.3,751.1L1391.3,734.1L1401.9,753.5L1400.1,756.4L1404.3,764.1L1402.5,767.0L1405.4,781.1L1397.2,784.6L1403.7,795.8L1381.5,796.4L1380.8,809.3L1359.0,809.3L1362.5,800.5L1335.0,800.5L1329.7,809.9L1307.3,809.9L1311.5,800.0L1304.4,796.4L1302.6,789.9L1309.1,771.7L1305.0,771.1L1312.0,754.1Z" />
<path d="M1307.0,950.8L1306.6,951.5L1306.4,952.4L1305.5,959.4L1305.4,960.4L1306.5,970.2L1306.5,970.3L1306.5,970.4L1305.4,987.5L1305.6,988.7L1307.5,996.4L1307.5,996.4L1310.6,1011.4L1311.1,1012.7L1315.4,1019.7L1316.0,1020.4L1316.7,1021.0L1325.4,1026.1L1326.3,1026.6L1327.4,1026.7L1335.8,1026.7L1336.8,1026.6L1337.7,1026.3L1345.0,1022.5L1345.1,1022.5L1345.2,1022.5L1351.3,1024.3L1352.4,1024.4L1353.5,1024.3L1358.2,1023.0L1359.2,1022.5L1360.0,1021.9L1360.6,1021.1L1363.9,1015.3L1363.9,1015.2L1364.0,1015.2L1374.3,1014.2L1374.4,1014.2L1374.5,1014.3L1378.6,1020.1L1379.3,1020.9L1380.3,1021.4L1381.4,1021.7L1386.9,1022.4L1388.0,1022.3L1389.0,1022.0L1398.0,1017.9L1398.8,1017.4L1399.5,1016.7L1400.0,1015.9L1403.1,1009.0L1403.4,1007.9L1403.4,1006.7L1402.6,1001.7L1402.6,1001.7L1400.5,983.0L1400.5,982.9L1400.5,982.8L1402.5,974.8L1402.6,974.1L1403.6,960.4L1403.5,959.4L1401.5,949.5L1401.5,949.3L1399.8,935.2L1399.6,934.3L1399.1,933.4L1398.5,932.7L1397.7,932.2L1396.8,931.8L1395.8,931.7L1384.3,931.7L1383.3,931.8L1376.8,933.4L1376.0,933.8L1375.2,934.3L1374.5,935.0L1370.3,941.0L1370.2,941.1L1370.2,941.0L1366.6,934.8L1365.9,933.9L1364.9,933.3L1357.5,929.5L1356.6,929.2L1355.6,929.1L1354.7,929.3L1353.8,929.6L1348.4,932.7L1348.3,932.7L1348.2,932.7L1339.1,935.8L1338.7,936.0L1332.7,939.0L1332.6,939.0L1332.5,939.0L1322.6,940.0L1321.8,940.1L1313.1,942.8L1312.3,943.1L1311.5,943.7L1310.9,944.5Z" />
<circle cx="1321.9" cy="858.6" r="8.3" />
<circle cx="1314.8" cy="872.2" r="8.3" />
<circle cx="1333.6" cy="879.5" r="8.3" />
<circle cx="1396.3" cy="859.1" r="8.3" />
<circle cx="1326.3" cy="893.0" r="8.3" />
<circle cx="1335.7" cy="891.0" r="8.3" />
<circle cx="1313.8" cy="907.7" r="8.3" />
<circle cx="1345.1" cy="910.8" r="8.3" />
<circle cx="1367.1" cy="904.5" r="8.3" />
<circle cx="1327.4" cy="927.5" r="8.3" />
<circle cx="1320.1" cy="928.6" r="8.3" />
<circle cx="1389.5" cy="894.1" r="8.3" />
<circle cx="1393.2" cy="903.5" r="8.3" />
<circle cx="1394.2" cy="918.1" r="8.3" />
<circle cx="1393.2" cy="928.6" r="8.3" />
<circle cx="1320.0" cy="900.0" r="8.3" />
<circle cx="1318.0" cy="915.0" r="8.3" />
<circle cx="1336.0" cy="907.0" r="8.3" />
</g>
<circle cx="1549.8" cy="986.8" r="8.3" fill="#5a51a3" stroke="#4d4494" stroke-width="0.8"/>
<circle cx="1543.1" cy="1011.1" r="8.3" fill="#5a51a3" stroke="#4d4494" stroke-width="0.8"/>
<circle cx="1587.7" cy="1025.3" r="8.3" fill="#5a51a3" stroke="#4d4494" stroke-width="0.8"/>
<circle cx="1780.5" cy="917.9" r="8.3" fill="#5a51a3" stroke="#4d4494" stroke-width="0.8"/>
<circle cx="1749.2" cy="1005.0" r="8.3" fill="#5a51a3" stroke="#4d4494" stroke-width="0.8"/>
<circle cx="1742.5" cy="1022.3" r="8.3" fill="#5a51a3" stroke="#4d4494" stroke-width="0.8"/>
<circle cx="1768.3" cy="1023.8" r="8.3" fill="#5a51a3" stroke="#4d4494" stroke-width="0.8"/>
<path d="M1934.4,780.4L1957.4,780.4L1945.9,760.4Z" fill="#5a51a3" stroke="#4d4494" stroke-width="0.8" stroke-linejoin="miter"/>
<path d="M1949.5,780.4L1972.5,780.4L1961.0,760.4Z" fill="#5a51a3" stroke="#4d4494" stroke-width="0.8" stroke-linejoin="miter"/>
<path d="M1992.9,779.5L2015.9,779.5L2004.4,759.5Z" fill="#5a51a3" stroke="#4d4494" stroke-width="0.8" stroke-linejoin="miter"/>
<path d="M1973.2,804.1L1996.2,804.1L1984.7,784.1Z" fill="#5a51a3" stroke="#4d4494" stroke-width="0.8" stroke-linejoin="miter"/>
<circle cx="1959.5" cy="933.7" r="8.3" fill="#5a51a3" stroke="#4d4494" stroke-width="0.8"/>
<circle cx="1980.8" cy="978.6" r="8.3" fill="#5a51a3" stroke="#4d4494" stroke-width="0.8"/>
<circle cx="2012.6" cy="985.3" r="8.3" fill="#5a51a3" stroke="#4d4494" stroke-width="0.8"/>
<circle cx="1946.8" cy="994.4" r="8.3" fill="#5a51a3" stroke="#4d4494" stroke-width="0.8"/>
<circle cx="1962.6" cy="1005.0" r="8.3" fill="#5a51a3" stroke="#4d4494" stroke-width="0.8"/>
<circle cx="1966.0" cy="1003.0" r="8.3" fill="#5a51a3" stroke="#4d4494" stroke-width="0.8"/>
<circle cx="2008.1" cy="1005.0" r="8.3" fill="#5a51a3" stroke="#4d4494" stroke-width="0.8"/>
<rect x="1277.6" y="784.3" width="155.2" height="200.0" fill="#fff" fill-opacity="0.2" stroke="#000" stroke-opacity="0.62" stroke-width="1.4"/>
<path d="M1354.8,784.3V743.1" stroke="#000" stroke-opacity="0.66" stroke-width="1.3"/>
<path d="M1354.8,984.3V1019.7" stroke="#000" stroke-opacity="0.66" stroke-width="1.3"/>
<path d="M1277.6,961.2H1432.8" stroke="#000" stroke-opacity="0.88" stroke-width="2.35"/>
<rect x="1484.6" y="999.8" width="155.6" height="18.3" fill="#fff" fill-opacity="0.2" stroke="#000" stroke-opacity="0.62" stroke-width="1.4"/>
<path d="M1562.0,999.8V986.8" stroke="#000" stroke-opacity="0.66" stroke-width="1.3"/>
<path d="M1562.0,1018.1V1024.7" stroke="#000" stroke-opacity="0.66" stroke-width="1.3"/>
<path d="M1484.6,1011.4H1640.2" stroke="#000" stroke-opacity="0.88" stroke-width="2.35"/>
<rect x="1691.8" y="984.4" width="155.4" height="38.2" fill="#fff" fill-opacity="0.2" stroke="#000" stroke-opacity="0.62" stroke-width="1.4"/>
<path d="M1691.8,1014.1H1847.2" stroke="#000" stroke-opacity="0.88" stroke-width="2.35"/>
<rect x="1898.8" y="787.1" width="155.7" height="212.4" fill="#fff" fill-opacity="0.2" stroke="#000" stroke-opacity="0.62" stroke-width="1.4"/>
<path d="M1976.6,787.1V773.4" stroke="#000" stroke-opacity="0.66" stroke-width="1.3"/>
<path d="M1976.6,999.5V1005.0" stroke="#000" stroke-opacity="0.66" stroke-width="1.3"/>
<path d="M1898.8,978.6H2054.5" stroke="#000" stroke-opacity="0.88" stroke-width="2.35"/>
<text transform="translate(1354.8,721.6) scale(1.035,1)" font-size="27" text-anchor="middle" fill="#000" font-weight="normal" font-style="normal" >b</text>
<text transform="translate(1562.0,967.1) scale(1.035,1)" font-size="27" text-anchor="middle" fill="#000" font-weight="normal" font-style="normal" >a</text>
<text transform="translate(1769.2,897.9) scale(1.035,1)" font-size="27" text-anchor="middle" fill="#000" font-weight="normal" font-style="normal" >ab</text>
<text transform="translate(1976.6,753.1) scale(1.035,1)" font-size="27" text-anchor="middle" fill="#000" font-weight="normal" font-style="normal" >b</text>
<path d="M1231.2,702.4V1045.4H2100.9" fill="none" stroke="#000" stroke-width="2.3" stroke-linecap="square"/>
<path d="M1219.0,986.2H1231.2" stroke="#333" stroke-width="2.2"/>
<text transform="translate(1207.1,995.9) scale(1.035,1)" font-size="27" text-anchor="end" fill="#4d4d4d" font-weight="normal" font-style="normal" >−30</text>
<path d="M1219.0,923.6H1231.2" stroke="#333" stroke-width="2.2"/>
<text transform="translate(1207.1,933.3) scale(1.035,1)" font-size="27" text-anchor="end" fill="#4d4d4d" font-weight="normal" font-style="normal" >−25</text>
<path d="M1219.0,861.2H1231.2" stroke="#333" stroke-width="2.2"/>
<text transform="translate(1207.1,870.9) scale(1.035,1)" font-size="27" text-anchor="end" fill="#4d4d4d" font-weight="normal" font-style="normal" >−20</text>
<path d="M1219.0,799.1H1231.2" stroke="#333" stroke-width="2.2"/>
<text transform="translate(1207.1,808.8) scale(1.035,1)" font-size="27" text-anchor="end" fill="#4d4d4d" font-weight="normal" font-style="normal" >−15</text>
<path d="M1219.0,736.8H1231.2" stroke="#333" stroke-width="2.2"/>
<text transform="translate(1207.1,746.5) scale(1.035,1)" font-size="27" text-anchor="end" fill="#4d4d4d" font-weight="normal" font-style="normal" >−10</text>
<path d="M1354.8,1045.4V1057.6000000000001" stroke="#333" stroke-width="2.2"/>
<text transform="translate(1354.8,1087.9) scale(1.035,1)" font-size="27" text-anchor="middle" fill="#000" font-weight="normal" font-style="normal" >None</text>
<text transform="translate(1354.8,1126.4) scale(1.035,1)" font-size="27" text-anchor="middle" fill="#4d4d4d" font-weight="normal" font-style="normal" ><tspan font-style="italic">n</tspan> = 300</text>
<path d="M1562.0,1045.4V1057.6000000000001" stroke="#333" stroke-width="2.2"/>
<text transform="translate(1562.0,1087.9) scale(1.035,1)" font-size="27" text-anchor="middle" fill="#000" font-weight="normal" font-style="normal" >Fruit/flower</text>
<text transform="translate(1562.0,1126.4) scale(1.035,1)" font-size="27" text-anchor="middle" fill="#4d4d4d" font-weight="normal" font-style="normal" ><tspan font-style="italic">n</tspan> = 3</text>
<path d="M1769.2,1045.4V1057.6000000000001" stroke="#333" stroke-width="2.2"/>
<text transform="translate(1769.2,1087.9) scale(1.035,1)" font-size="27" text-anchor="middle" fill="#000" font-weight="normal" font-style="normal" >Leaf/shoot</text>
<text transform="translate(1769.2,1126.4) scale(1.035,1)" font-size="27" text-anchor="middle" fill="#4d4d4d" font-weight="normal" font-style="normal" ><tspan font-style="italic">n</tspan> = 4</text>
<path d="M1976.6,1045.4V1057.6000000000001" stroke="#333" stroke-width="2.2"/>
<text transform="translate(1976.6,1087.9) scale(1.035,1)" font-size="27" text-anchor="middle" fill="#000" font-weight="normal" font-style="normal" >Seed</text>
<text transform="translate(1976.6,1126.4) scale(1.035,1)" font-size="27" text-anchor="middle" fill="#4d4d4d" font-weight="normal" font-style="normal" ><tspan font-style="italic">n</tspan> = 11</text>
<g fill="#a2d3be" stroke="#a2d3be" stroke-width="1.6" stroke-linejoin="round">
<path d="M180.4,1447.7L185.8,1442.3L199.6,1445.4L205.0,1440.8L212.7,1441.5L223.5,1441.5L231.9,1435.4L238.8,1440.0L238.8,1449.2L232.7,1453.8L234.2,1464.6L238.8,1464.6L243.5,1460.0L256.5,1480.8L258.8,1491.5L258.1,1503.1L261.9,1506.9L262.9,1519.1L262.9,1546.3L259.3,1564.4L262.9,1591.6L258.4,1600.7L255.7,1614.3L263.8,1632.4L257.5,1638.7L263.8,1651.4L249.3,1655.1L255.7,1666.8L232.1,1666.8L233.9,1664.1L226.6,1655.1L224.8,1646.9L211.2,1651.4L215.8,1661.4L193.1,1662.3L188.6,1656.0L176.8,1652.3L176.8,1635.1L181.3,1618.8L183.1,1609.7L183.1,1597.0L175.9,1591.6L175.0,1578.9L176.8,1555.3L178.6,1537.2L180.4,1519.1L181.9,1503.1L181.9,1491.5L178.1,1486.2L178.5,1476.2L183.5,1468.5L180.4,1460.8Z" />
<circle cx="215.0" cy="1389.2" r="8.3" />
<circle cx="234.6" cy="1400.8" r="8.3" />
<circle cx="213.1" cy="1421.2" r="8.3" />
<circle cx="244.2" cy="1416.2" r="8.3" />
<circle cx="236.5" cy="1423.1" r="8.3" />
<circle cx="247.3" cy="1426.2" r="8.3" />
<circle cx="191.9" cy="1433.8" r="8.3" />
<circle cx="231.9" cy="1442.3" r="8.3" />
<circle cx="240.0" cy="1408.0" r="8.3" />
</g>
<g fill="#b3e3ce">
<path d="M180.4,1447.7L185.8,1442.3L199.6,1445.4L205.0,1440.8L212.7,1441.5L223.5,1441.5L231.9,1435.4L238.8,1440.0L238.8,1449.2L232.7,1453.8L234.2,1464.6L238.8,1464.6L243.5,1460.0L256.5,1480.8L258.8,1491.5L258.1,1503.1L261.9,1506.9L262.9,1519.1L262.9,1546.3L259.3,1564.4L262.9,1591.6L258.4,1600.7L255.7,1614.3L263.8,1632.4L257.5,1638.7L263.8,1651.4L249.3,1655.1L255.7,1666.8L232.1,1666.8L233.9,1664.1L226.6,1655.1L224.8,1646.9L211.2,1651.4L215.8,1661.4L193.1,1662.3L188.6,1656.0L176.8,1652.3L176.8,1635.1L181.3,1618.8L183.1,1609.7L183.1,1597.0L175.9,1591.6L175.0,1578.9L176.8,1555.3L178.6,1537.2L180.4,1519.1L181.9,1503.1L181.9,1491.5L178.1,1486.2L178.5,1476.2L183.5,1468.5L180.4,1460.8Z" />
<circle cx="215.0" cy="1389.2" r="8.3" />
<circle cx="234.6" cy="1400.8" r="8.3" />
<circle cx="213.1" cy="1421.2" r="8.3" />
<circle cx="244.2" cy="1416.2" r="8.3" />
<circle cx="236.5" cy="1423.1" r="8.3" />
<circle cx="247.3" cy="1426.2" r="8.3" />
<circle cx="191.9" cy="1433.8" r="8.3" />
<circle cx="231.9" cy="1442.3" r="8.3" />
<circle cx="240.0" cy="1408.0" r="8.3" />
</g>
<circle cx="411.4" cy="1393.7" r="8.3" fill="#5a51a3" stroke="#4d4494" stroke-width="0.8"/>
<circle cx="380.0" cy="1434.3" r="8.3" fill="#5a51a3" stroke="#4d4494" stroke-width="0.8"/>
<circle cx="411.4" cy="1460.9" r="8.3" fill="#5a51a3" stroke="#4d4494" stroke-width="0.8"/>
<circle cx="368.0" cy="1505.1" r="8.3" fill="#5a51a3" stroke="#4d4494" stroke-width="0.8"/>
<circle cx="392.9" cy="1534.3" r="8.3" fill="#5a51a3" stroke="#4d4494" stroke-width="0.8"/>
<circle cx="535.0" cy="1464.6" r="8.3" fill="#5a51a3" stroke="#4d4494" stroke-width="0.8"/>
<circle cx="547.0" cy="1478.6" r="8.3" fill="#5a51a3" stroke="#4d4494" stroke-width="0.8"/>
<circle cx="588.8" cy="1468.8" r="8.3" fill="#5a51a3" stroke="#4d4494" stroke-width="0.8"/>
<circle cx="580.4" cy="1475.2" r="8.3" fill="#5a51a3" stroke="#4d4494" stroke-width="0.8"/>
<circle cx="568.7" cy="1490.6" r="8.3" fill="#5a51a3" stroke="#4d4494" stroke-width="0.8"/>
<circle cx="579.0" cy="1496.7" r="8.3" fill="#5a51a3" stroke="#4d4494" stroke-width="0.8"/>
<circle cx="587.4" cy="1503.7" r="8.3" fill="#5a51a3" stroke="#4d4494" stroke-width="0.8"/>
<circle cx="597.7" cy="1501.5" r="8.3" fill="#5a51a3" stroke="#4d4494" stroke-width="0.8"/>
<circle cx="534.4" cy="1515.4" r="8.3" fill="#5a51a3" stroke="#4d4494" stroke-width="0.8"/>
<circle cx="579.0" cy="1542.7" r="8.3" fill="#5a51a3" stroke="#4d4494" stroke-width="0.8"/>
<circle cx="589.4" cy="1538.6" r="8.3" fill="#5a51a3" stroke="#4d4494" stroke-width="0.8"/>
<circle cx="595.8" cy="1552.0" r="8.3" fill="#5a51a3" stroke="#4d4494" stroke-width="0.8"/>
<circle cx="710.2" cy="1462.7" r="8.3" fill="#5a51a3" stroke="#4d4494" stroke-width="0.8"/>
<circle cx="774.9" cy="1484.7" r="8.3" fill="#5a51a3" stroke="#4d4494" stroke-width="0.8"/>
<circle cx="758.5" cy="1524.6" r="8.3" fill="#5a51a3" stroke="#4d4494" stroke-width="0.8"/>
<path d="M900.4,1403.2L923.4,1403.2L911.9,1383.2Z" fill="#5a51a3" stroke="#4d4494" stroke-width="0.8" stroke-linejoin="miter"/>
<path d="M937.3,1513.5L960.3,1513.5L948.8,1493.5Z" fill="#5a51a3" stroke="#4d4494" stroke-width="0.8" stroke-linejoin="miter"/>
<path d="M919.1,1570.6L942.1,1570.6L930.6,1550.6Z" fill="#5a51a3" stroke="#4d4494" stroke-width="0.8" stroke-linejoin="miter"/>
<path d="M893.2,1579.0L916.2,1579.0L904.7,1559.0Z" fill="#5a51a3" stroke="#4d4494" stroke-width="0.8" stroke-linejoin="miter"/>
<path d="M875.9,1593.0L898.9,1593.0L887.4,1573.0Z" fill="#5a51a3" stroke="#4d4494" stroke-width="0.8" stroke-linejoin="miter"/>
<path d="M877.3,1605.5L900.3,1605.5L888.8,1585.5Z" fill="#5a51a3" stroke="#4d4494" stroke-width="0.8" stroke-linejoin="miter"/>
<path d="M878.5,1610.0L901.5,1610.0L890.0,1590.0Z" fill="#5a51a3" stroke="#4d4494" stroke-width="0.8" stroke-linejoin="miter"/>
<path d="M895.4,1647.4L918.4,1647.4L906.9,1627.4Z" fill="#5a51a3" stroke="#4d4494" stroke-width="0.8" stroke-linejoin="miter"/>
<path d="M908.8,1655.7L931.8,1655.7L920.3,1635.7Z" fill="#5a51a3" stroke="#4d4494" stroke-width="0.8" stroke-linejoin="miter"/>
<path d="M928.3,1630.6L951.3,1630.6L939.8,1610.6Z" fill="#5a51a3" stroke="#4d4494" stroke-width="0.8" stroke-linejoin="miter"/>
<path d="M894.0,1480.0L917.0,1480.0L905.5,1460.0Z" fill="#5a51a3" stroke="#4d4494" stroke-width="0.8" stroke-linejoin="miter"/>
<circle cx="888.2" cy="1420.5" r="8.3" fill="#5a51a3" stroke="#4d4494" stroke-width="0.8"/>
<circle cx="898.5" cy="1452.9" r="8.3" fill="#5a51a3" stroke="#4d4494" stroke-width="0.8"/>
<circle cx="911.1" cy="1452.9" r="8.3" fill="#5a51a3" stroke="#4d4494" stroke-width="0.8"/>
<circle cx="939.0" cy="1448.7" r="8.3" fill="#5a51a3" stroke="#4d4494" stroke-width="0.8"/>
<circle cx="941.8" cy="1464.6" r="8.3" fill="#5a51a3" stroke="#4d4494" stroke-width="0.8"/>
<circle cx="937.6" cy="1476.6" r="8.3" fill="#5a51a3" stroke="#4d4494" stroke-width="0.8"/>
<circle cx="913.9" cy="1477.2" r="8.3" fill="#5a51a3" stroke="#4d4494" stroke-width="0.8"/>
<circle cx="883.2" cy="1630.6" r="8.3" fill="#5a51a3" stroke="#4d4494" stroke-width="0.8"/>
<circle cx="903.5" cy="1619.5" r="8.3" fill="#5a51a3" stroke="#4d4494" stroke-width="0.8"/>
<circle cx="888.8" cy="1609.7" r="8.3" fill="#5a51a3" stroke="#4d4494" stroke-width="0.8"/>
<circle cx="880.4" cy="1489.7" r="8.3" fill="#5a51a3" stroke="#4d4494" stroke-width="0.8"/>
<circle cx="899.9" cy="1489.7" r="8.3" fill="#5a51a3" stroke="#4d4494" stroke-width="0.8"/>
<circle cx="883.2" cy="1498.1" r="8.3" fill="#5a51a3" stroke="#4d4494" stroke-width="0.8"/>
<circle cx="929.2" cy="1485.5" r="8.3" fill="#5a51a3" stroke="#4d4494" stroke-width="0.8"/>
<circle cx="923.6" cy="1506.5" r="8.3" fill="#5a51a3" stroke="#4d4494" stroke-width="0.8"/>
<circle cx="901.3" cy="1509.3" r="8.3" fill="#5a51a3" stroke="#4d4494" stroke-width="0.8"/>
<circle cx="881.8" cy="1514.8" r="8.3" fill="#5a51a3" stroke="#4d4494" stroke-width="0.8"/>
<circle cx="887.4" cy="1523.2" r="8.3" fill="#5a51a3" stroke="#4d4494" stroke-width="0.8"/>
<circle cx="926.4" cy="1523.2" r="8.3" fill="#5a51a3" stroke="#4d4494" stroke-width="0.8"/>
<circle cx="934.8" cy="1531.6" r="8.3" fill="#5a51a3" stroke="#4d4494" stroke-width="0.8"/>
<circle cx="907.5" cy="1545.5" r="8.3" fill="#5a51a3" stroke="#4d4494" stroke-width="0.8"/>
<rect x="155.7" y="1533.7" width="130.0" height="60.0" fill="#fff" fill-opacity="0.2" stroke="#000" stroke-opacity="0.62" stroke-width="1.4"/>
<path d="M220.6,1533.7V1447.7" stroke="#000" stroke-opacity="0.66" stroke-width="1.3"/>
<path d="M220.6,1593.7V1660.0" stroke="#000" stroke-opacity="0.66" stroke-width="1.3"/>
<path d="M155.7,1569.4H285.7" stroke="#000" stroke-opacity="0.88" stroke-width="2.35"/>
<rect x="329.1" y="1434.3" width="130.0" height="70.8" fill="#fff" fill-opacity="0.2" stroke="#000" stroke-opacity="0.62" stroke-width="1.4"/>
<path d="M394.3,1434.3V1393.7" stroke="#000" stroke-opacity="0.66" stroke-width="1.3"/>
<path d="M394.3,1505.1V1534.3" stroke="#000" stroke-opacity="0.66" stroke-width="1.3"/>
<path d="M329.1,1461.4H459.1" stroke="#000" stroke-opacity="0.88" stroke-width="2.35"/>
<rect x="502.3" y="1479.4" width="130.3" height="59.2" fill="#fff" fill-opacity="0.2" stroke="#000" stroke-opacity="0.62" stroke-width="1.4"/>
<path d="M567.5,1479.4V1465.2" stroke="#000" stroke-opacity="0.66" stroke-width="1.3"/>
<path d="M567.5,1538.6V1551.1" stroke="#000" stroke-opacity="0.66" stroke-width="1.3"/>
<path d="M502.3,1501.5H632.6" stroke="#000" stroke-opacity="0.88" stroke-width="2.35"/>
<rect x="675.9" y="1474.4" width="130.0" height="30.7" fill="#fff" fill-opacity="0.2" stroke="#000" stroke-opacity="0.62" stroke-width="1.4"/>
<path d="M741.0,1474.4V1463.2" stroke="#000" stroke-opacity="0.66" stroke-width="1.3"/>
<path d="M741.0,1505.1V1524.6" stroke="#000" stroke-opacity="0.66" stroke-width="1.3"/>
<path d="M675.9,1485.0H805.9" stroke="#000" stroke-opacity="0.88" stroke-width="2.35"/>
<rect x="849.1" y="1477.2" width="130.3" height="92.9" fill="#fff" fill-opacity="0.2" stroke="#000" stroke-opacity="0.62" stroke-width="1.4"/>
<path d="M914.3,1477.2V1396.3" stroke="#000" stroke-opacity="0.66" stroke-width="1.3"/>
<path d="M914.3,1570.1V1647.4" stroke="#000" stroke-opacity="0.66" stroke-width="1.3"/>
<path d="M849.1,1508.4H979.4" stroke="#000" stroke-opacity="0.88" stroke-width="2.35"/>
<text transform="translate(220.6,1368.6) scale(1.035,1)" font-size="27" text-anchor="middle" fill="#000" font-weight="normal" font-style="normal" >a</text>
<text transform="translate(394.3,1371.4) scale(1.035,1)" font-size="27" text-anchor="middle" fill="#000" font-weight="normal" font-style="normal" >b</text>
<text transform="translate(567.5,1443.7) scale(1.035,1)" font-size="27" text-anchor="middle" fill="#000" font-weight="normal" font-style="normal" >b</text>
<text transform="translate(741.0,1442.3) scale(1.035,1)" font-size="27" text-anchor="middle" fill="#000" font-weight="normal" font-style="normal" >b</text>
<text transform="translate(914.3,1376.7) scale(1.035,1)" font-size="27" text-anchor="middle" fill="#000" font-weight="normal" font-style="normal" >b</text>
<path d="M116.6,1337.7V1681.5H1018.0" fill="none" stroke="#000" stroke-width="2.3" stroke-linecap="square"/>
<path d="M104.39999999999999,1665.7H116.6" stroke="#333" stroke-width="2.2"/>
<text transform="translate(94.4,1675.4) scale(1.035,1)" font-size="27" text-anchor="end" fill="#4d4d4d" font-weight="normal" font-style="normal" >0</text>
<path d="M104.39999999999999,1576.6H116.6" stroke="#333" stroke-width="2.2"/>
<text transform="translate(94.4,1586.3) scale(1.035,1)" font-size="27" text-anchor="end" fill="#4d4d4d" font-weight="normal" font-style="normal" >2</text>
<path d="M104.39999999999999,1487.7H116.6" stroke="#333" stroke-width="2.2"/>
<text transform="translate(94.4,1497.4) scale(1.035,1)" font-size="27" text-anchor="end" fill="#4d4d4d" font-weight="normal" font-style="normal" >4</text>
<path d="M104.39999999999999,1397.7H116.6" stroke="#333" stroke-width="2.2"/>
<text transform="translate(94.4,1407.4) scale(1.035,1)" font-size="27" text-anchor="end" fill="#4d4d4d" font-weight="normal" font-style="normal" >6</text>
<path d="M220.6,1681.5V1693.7" stroke="#333" stroke-width="2.2"/>
<text transform="translate(220.6,1723.5) scale(1.035,1)" font-size="27" text-anchor="middle" fill="#000" font-weight="normal" font-style="normal" >None</text>
<text transform="translate(220.6,1765.0) scale(1.035,1)" font-size="27" text-anchor="middle" fill="#4d4d4d" font-weight="normal" font-style="normal" ><tspan font-style="italic">n</tspan> = 496</text>
<path d="M394.3,1681.5V1693.7" stroke="#333" stroke-width="2.2"/>
<text transform="translate(394.3,1723.5) scale(1.035,1)" font-size="27" text-anchor="middle" fill="#000" font-weight="normal" font-style="normal" >Fruit/flower</text>
<text transform="translate(394.3,1765.0) scale(1.035,1)" font-size="27" text-anchor="middle" fill="#4d4d4d" font-weight="normal" font-style="normal" ><tspan font-style="italic">n</tspan> = 5</text>
<path d="M567.5,1681.5V1693.7" stroke="#333" stroke-width="2.2"/>
<text transform="translate(567.5,1723.5) scale(1.035,1)" font-size="27" text-anchor="middle" fill="#000" font-weight="normal" font-style="normal" >Leaf/shoot</text>
<text transform="translate(567.5,1765.0) scale(1.035,1)" font-size="27" text-anchor="middle" fill="#4d4d4d" font-weight="normal" font-style="normal" ><tspan font-style="italic">n</tspan> = 13</text>
<path d="M741.0,1681.5V1693.7" stroke="#333" stroke-width="2.2"/>
<text transform="translate(741.0,1723.5) scale(1.035,1)" font-size="27" text-anchor="middle" fill="#000" font-weight="normal" font-style="normal" >Root</text>
<text transform="translate(741.0,1765.0) scale(1.035,1)" font-size="27" text-anchor="middle" fill="#4d4d4d" font-weight="normal" font-style="normal" ><tspan font-style="italic">n</tspan> = 3</text>
<path d="M914.3,1681.5V1693.7" stroke="#333" stroke-width="2.2"/>
<text transform="translate(914.3,1723.5) scale(1.035,1)" font-size="27" text-anchor="middle" fill="#000" font-weight="normal" font-style="normal" >Seed</text>
<text transform="translate(914.3,1765.0) scale(1.035,1)" font-size="27" text-anchor="middle" fill="#4d4d4d" font-weight="normal" font-style="normal" ><tspan font-style="italic">n</tspan> = 38</text>
<text x="521.7" y="23.3" font-size="29" font-style="italic">A</text>
<text x="540.2" y="29.5" font-size="19" font-weight="bold">area</text>
<text x="1633.5" y="15.5" font-size="28" font-style="italic">g</text>
<text x="1650.4" y="22.3" font-size="18" font-weight="bold">wv</text>
<text x="528.6" y="660.0" font-size="29" font-weight="bold" text-anchor="middle">SLA</text>
<text x="1634.0" y="668.3" font-size="30" font-weight="bold">δ</text>
<text x="1652.5" y="656.7" font-size="19" font-weight="bold">13</text>
<text x="1672.0" y="668.3" font-size="30" font-weight="bold">C</text>
<text x="527.0" y="1297.4" font-size="29" font-weight="bold">[</text>
<text x="537.0" y="1297.4" font-size="29" font-style="italic">N</text>
<text x="557.5" y="1302.8" font-size="19" font-weight="bold">mass</text>
<text x="605.0" y="1297.4" font-size="29" font-weight="bold">]</text>
<text transform="translate(36.60,321.20) rotate(-90) scale(1.03,1)" font-size="31">µmol m</text>
<text transform="translate(21.10,214.10) rotate(-90) scale(1.0,1)" font-size="22">2</text>
<text transform="translate(36.60,192.70) rotate(-90) scale(0.95,1)" font-size="29.5">s</text>
<text transform="translate(21.10,176.00) rotate(-90) scale(1.337,1)" font-size="22">−</text>
<text transform="translate(21.10,162.70) rotate(-90) scale(0.75,1)" font-size="22">1</text>
<text transform="translate(1126.00,328.30) rotate(-90) scale(1.01,1)" font-size="31">mmol m</text>
<text transform="translate(1110.30,211.90) rotate(-90) scale(1.235,1)" font-size="22">−</text>
<text transform="translate(1110.30,200.70) rotate(-90) scale(1.0,1)" font-size="22">2</text>
<text transform="translate(1126.00,179.40) rotate(-90) scale(1.05,1)" font-size="29.5">s</text>
<text transform="translate(1110.30,162.30) rotate(-90) scale(1.27,1)" font-size="22">−</text>
<text transform="translate(1110.30,149.50) rotate(-90) scale(0.75,1)" font-size="22">1</text>
<text transform="translate(36.80,919.90) rotate(-90) scale(1.03,1)" font-size="31">cm</text>
<text transform="translate(21.10,876.10) rotate(-90) scale(1.0,1)" font-size="22">2</text>
<text transform="translate(36.80,854.80) rotate(-90) scale(1.0,1)" font-size="29.5">g</text>
<text transform="translate(21.10,836.40) rotate(-90) scale(1.337,1)" font-size="22">−</text>
<text transform="translate(21.10,822.70) rotate(-90) scale(0.75,1)" font-size="22">1</text>
<text transform="translate(1142.40,892.00) rotate(-90) scale(1.0,1)" font-size="30">‰</text>
<text transform="translate(44.30,1524.50) rotate(-90) scale(1.0,1)" font-size="29.5">%</text>
<circle cx="497.4" cy="1854.7" r="6.3" fill="#b3e3ce"/>
<text transform="translate(529.3,1865.3) scale(1.025,1)" font-size="28">Wild annual herb (W)</text>
<circle cx="908.0" cy="1854.7" r="6.3" fill="#5a51a3"/>
<text transform="translate(939.0,1865.3) scale(1.028,1)" font-size="28">Crop's wild progenitor (P)</text>
<circle cx="1410.8" cy="1854.7" r="5.6" fill="#000"/>
<text x="1441.5" y="1865.8" font-size="28">C</text>
<text x="1462.0" y="1871.7" font-size="18">3</text>
<path d="M1513.9,1859.1L1528.3,1859.1L1521.1,1846.8Z" fill="#000"/>
<text x="1551.8" y="1865.8" font-size="28">C</text>
<text x="1572.5" y="1871.7" font-size="18">4</text>
</svg>
</body></html>
